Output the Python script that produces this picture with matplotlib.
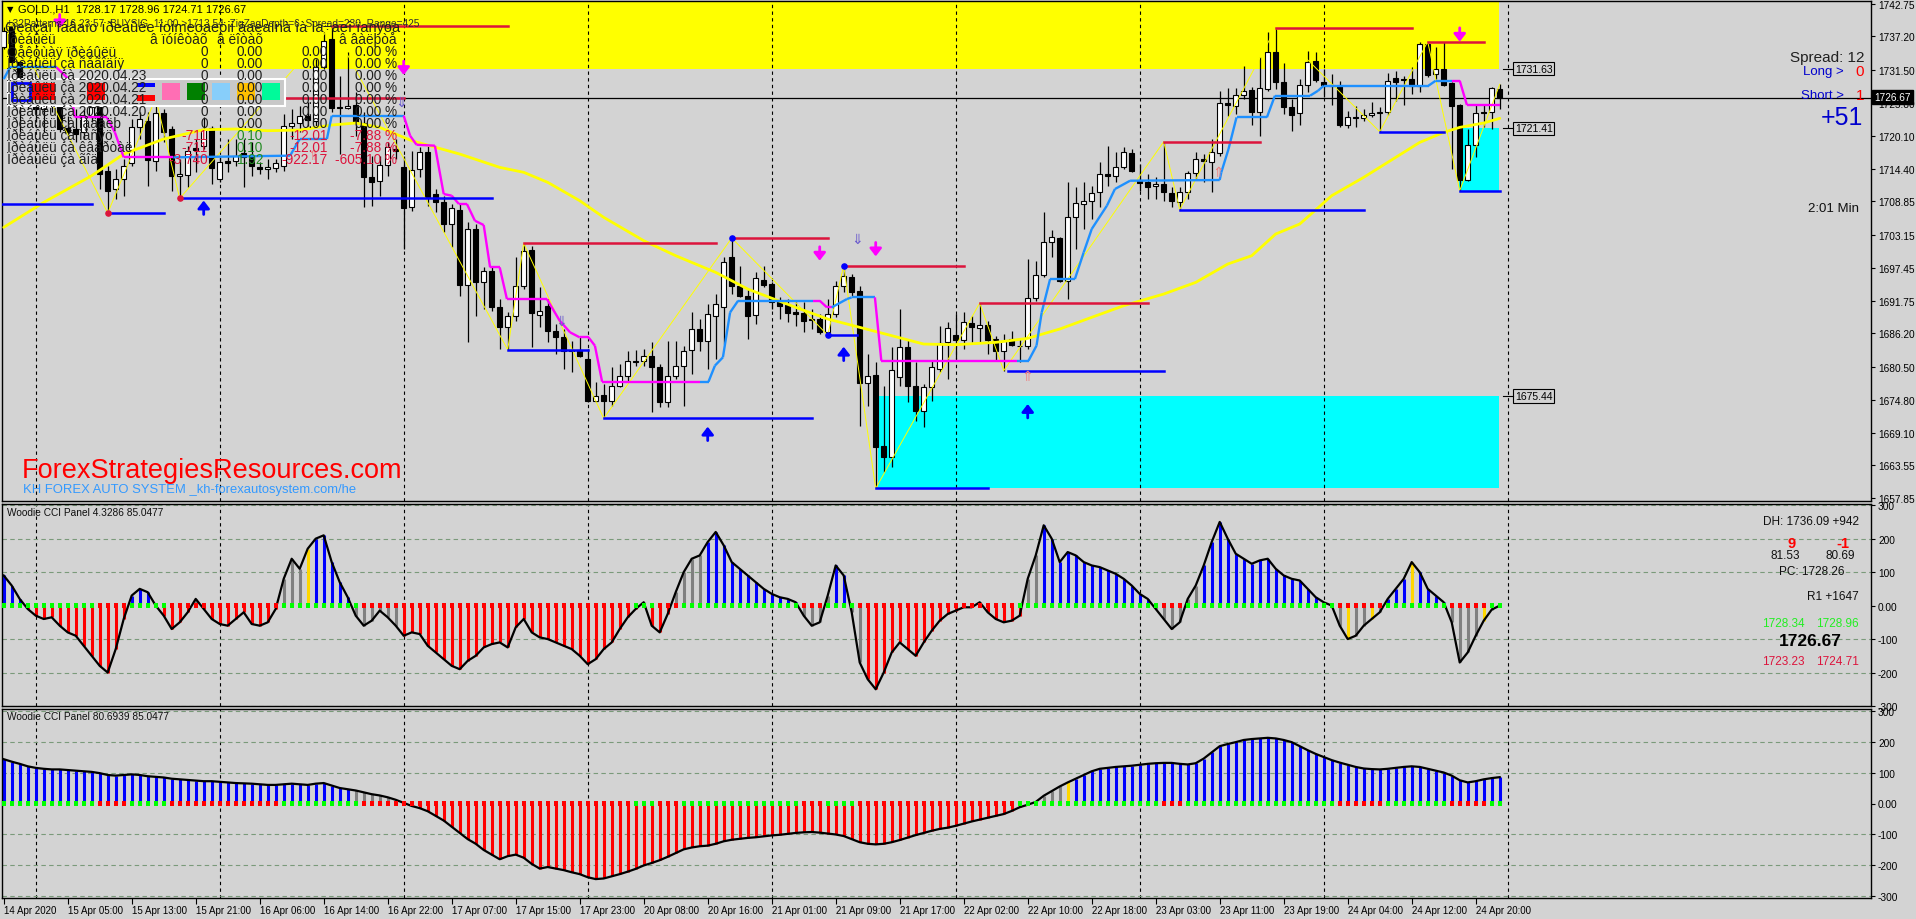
import matplotlib
matplotlib.use("Agg")
import matplotlib.pyplot as plt
from matplotlib.patches import Rectangle
import numpy as np

plt.rcParams["font.family"] = ["Liberation Sans", "DejaVu Sans"]

W, H = 1916, 920
BG = "#D3D3D3"

# GOLD H1, bar 0 = 14 Apr 20:00
opens = [1735.31, 1738.74, 1732.73, 1727.58, 1728.44, 1724.72, 1725.58, 1727.30, 1721.40, 1721.29,
         1720.71, 1723.29, 1725.01, 1714.02, 1710.98, 1712.70, 1715.39, 1721.69, 1722.72, 1715.85,
         1723.98, 1721.29, 1713.27, 1713.39, 1717.97, 1718.42, 1721.46, 1712.70, 1715.73, 1715.73,
         1717.16, 1716.42, 1714.82, 1714.36, 1714.59, 1714.99, 1721.86, 1722.32, 1723.52, 1722.72,
         1731.99, 1736.74, 1725.01, 1724.84, 1725.41, 1722.32, 1712.99, 1712.41, 1715.16, 1717.85,
         1714.70, 1707.84, 1714.42, 1717.39, 1710.12, 1708.69, 1704.97, 1707.38, 1694.55, 1704.11,
         1695.07, 1696.84, 1690.66, 1687.23, 1689.12, 1694.27, 1700.51, 1689.40, 1690.83, 1686.66,
         1685.51, 1683.34, 1683.34, 1681.79, 1674.64, 1675.67, 1674.64, 1677.21, 1678.81, 1681.50,
         1681.39, 1682.25, 1680.36, 1674.35, 1678.93, 1680.53, 1683.39, 1686.94, 1684.82, 1689.12,
         1690.66, 1699.36, 1694.27, 1692.67, 1689.35, 1695.41, 1694.67, 1691.52, 1691.06, 1689.80,
         1689.63, 1688.66, 1688.66, 1686.37, 1689.52, 1694.27, 1695.81, 1693.41, 1677.67, 1679.04,
         1666.79, 1665.02, 1678.76, 1683.79, 1677.21, 1672.80, 1677.04, 1680.07, 1684.65, 1685.91,
         1685.11, 1687.97, 1687.06, 1687.63, 1685.22, 1683.22, 1685.22, 1684.08, 1683.96, 1692.21,
         1696.22, 1701.94, 1702.57, 1695.24, 1706.12, 1708.41, 1708.92, 1710.41, 1713.56, 1713.16,
         1714.82, 1717.16, 1712.53, 1712.19, 1711.44, 1711.78, 1710.30, 1708.81, 1710.41, 1713.73,
         1716.08, 1715.56, 1717.10, 1725.69, 1725.18, 1727.18, 1727.98, 1724.15, 1728.16, 1734.45,
         1729.41, 1725.12, 1723.98, 1728.90, 1732.96, 1729.41, 1728.90, 1728.61, 1721.97, 1723.40,
         1723.12, 1723.69, 1723.98, 1724.15, 1729.99, 1729.87, 1729.87, 1728.73, 1735.88, 1730.73,
         1731.53, 1729.13, 1725.41, 1712.59, 1718.54, 1724.15, 1724.15, 1728.17]
highs = [1738.74, 1739.32, 1733.02, 1728.16, 1729.30, 1726.44, 1728.16, 1727.58, 1723.58, 1724.72,
         1724.72, 1726.44, 1726.44, 1714.99, 1714.42, 1716.14, 1723.00, 1724.15, 1724.15, 1726.60,
         1724.72, 1721.86, 1716.14, 1718.42, 1719.57, 1723.29, 1721.86, 1716.42, 1719.57, 1719.57,
         1719.57, 1718.99, 1715.56, 1716.14, 1716.14, 1723.86, 1724.72, 1725.29, 1725.86, 1733.31,
         1737.89, 1739.03, 1730.44, 1734.45, 1727.58, 1724.15, 1716.71, 1716.71, 1718.99, 1719.57,
         1716.71, 1717.57, 1718.14, 1718.42, 1710.98, 1709.84, 1708.41, 1708.41, 1705.26, 1704.97,
         1697.53, 1697.53, 1692.09, 1689.80, 1699.25, 1701.65, 1701.25, 1694.10, 1692.09, 1687.80,
         1686.94, 1684.94, 1685.51, 1683.51, 1677.78, 1677.50, 1680.36, 1680.93, 1683.22, 1683.39,
         1683.51, 1684.65, 1680.93, 1684.94, 1684.94, 1684.08, 1689.80, 1688.66, 1691.24, 1692.95,
         1699.25, 1702.57, 1697.82, 1693.81, 1696.67, 1697.82, 1694.95, 1692.38, 1692.09, 1691.52,
         1691.52, 1690.38, 1689.52, 1692.09, 1695.24, 1697.82, 1696.39, 1694.38, 1682.65, 1681.22,
         1677.21, 1683.79, 1690.38, 1685.22, 1681.22, 1677.50, 1681.50, 1687.52, 1688.09, 1689.52,
         1689.80, 1689.23, 1691.40, 1688.37, 1685.80, 1686.08, 1686.66, 1685.22, 1698.96, 1698.68,
         1706.98, 1703.94, 1702.68, 1712.13, 1711.27, 1712.13, 1711.56, 1715.56, 1718.42, 1717.28,
         1718.14, 1717.85, 1715.28, 1713.56, 1712.99, 1719.11, 1711.27, 1711.27, 1714.13, 1717.28,
         1716.99, 1719.57, 1727.87, 1728.27, 1728.27, 1732.16, 1728.44, 1733.59, 1737.89, 1738.63,
         1732.62, 1726.44, 1729.87, 1734.74, 1734.45, 1731.59, 1730.73, 1729.59, 1724.43, 1725.29,
         1724.72, 1725.86, 1725.01, 1730.90, 1731.30, 1730.44, 1731.88, 1736.28, 1736.28, 1735.31,
         1736.17, 1729.30, 1725.58, 1721.29, 1725.41, 1725.41, 1728.44, 1728.96]
lows = [1735.02, 1732.45, 1720.71, 1724.72, 1722.43, 1720.71, 1724.15, 1720.71, 1719.57, 1718.99,
        1719.57, 1722.43, 1710.98, 1706.86, 1709.27, 1709.84, 1714.99, 1719.57, 1711.56, 1714.13,
        1718.99, 1710.70, 1709.38, 1711.27, 1713.85, 1717.85, 1711.84, 1712.13, 1713.85, 1714.99,
        1711.27, 1713.27, 1713.56, 1712.70, 1713.85, 1714.13, 1719.57, 1720.71, 1721.86, 1721.86,
        1731.59, 1724.15, 1716.99, 1724.72, 1720.14, 1707.84, 1708.12, 1709.84, 1713.27, 1716.14,
        1700.68, 1707.26, 1712.99, 1708.12, 1706.98, 1703.54, 1700.97, 1692.67, 1684.65, 1689.23,
        1690.38, 1690.09, 1683.51, 1683.39, 1688.37, 1693.81, 1683.79, 1687.23, 1684.65, 1682.65,
        1680.07, 1679.50, 1682.08, 1674.35, 1674.35, 1671.60, 1673.78, 1676.93, 1678.07, 1680.65,
        1680.65, 1672.63, 1673.49, 1673.49, 1678.36, 1673.78, 1679.21, 1683.22, 1680.07, 1681.79,
        1684.36, 1692.95, 1692.38, 1685.22, 1687.80, 1694.10, 1690.38, 1688.66, 1688.09, 1687.52,
        1686.37, 1686.94, 1686.08, 1685.91, 1688.95, 1693.24, 1692.67, 1670.34, 1673.78, 1659.58,
        1662.33, 1663.19, 1677.21, 1674.35, 1671.20, 1670.17, 1674.64, 1679.50, 1678.36, 1681.79,
        1683.51, 1684.65, 1684.65, 1682.65, 1681.50, 1679.80, 1684.08, 1681.22, 1683.51, 1691.81,
        1695.81, 1699.25, 1694.95, 1692.09, 1700.68, 1704.11, 1705.83, 1707.84, 1711.56, 1712.13,
        1714.42, 1713.85, 1710.70, 1709.27, 1709.27, 1708.98, 1707.84, 1707.44, 1709.27, 1712.70,
        1712.13, 1710.53, 1716.71, 1723.58, 1723.86, 1726.44, 1721.97, 1720.14, 1727.87, 1728.16,
        1723.86, 1721.00, 1721.97, 1727.58, 1729.30, 1726.72, 1725.41, 1721.57, 1721.40, 1721.57,
        1722.72, 1723.29, 1720.83, 1723.69, 1726.15, 1725.41, 1727.30, 1727.70, 1730.16, 1729.87,
        1728.61, 1714.42, 1710.70, 1712.41, 1716.42, 1721.57, 1721.29, 1724.71]
closes = [1738.17, 1732.73, 1727.58, 1726.44, 1724.72, 1725.58, 1727.30, 1721.29, 1720.83, 1720.43,
          1723.58, 1725.01, 1713.56, 1710.70, 1712.70, 1714.99, 1721.69, 1723.00, 1716.02, 1723.98,
          1720.71, 1713.27, 1713.56, 1717.57, 1717.74, 1721.29, 1714.59, 1715.56, 1715.51, 1716.71,
          1716.42, 1714.99, 1714.36, 1714.70, 1715.45, 1721.86, 1722.26, 1723.46, 1722.89, 1731.99,
          1736.46, 1724.84, 1724.84, 1725.18, 1722.32, 1712.99, 1712.24, 1715.16, 1718.14, 1717.51,
          1707.66, 1714.30, 1717.39, 1709.44, 1708.69, 1704.97, 1707.66, 1694.55, 1704.11, 1695.07,
          1696.84, 1690.66, 1687.23, 1689.12, 1694.27, 1700.28, 1689.63, 1689.98, 1686.66, 1685.51,
          1683.11, 1683.11, 1682.36, 1674.64, 1675.50, 1674.52, 1677.21, 1678.81, 1681.50, 1681.33,
          1682.25, 1680.47, 1674.35, 1678.93, 1680.53, 1683.22, 1686.94, 1684.82, 1689.52, 1691.24,
          1698.39, 1694.27, 1692.67, 1689.23, 1695.64, 1694.55, 1691.52, 1690.95, 1689.63, 1689.52,
          1688.37, 1688.55, 1686.37, 1689.52, 1694.27, 1695.99, 1693.35, 1677.67, 1678.93, 1666.62,
          1665.02, 1679.90, 1683.79, 1677.21, 1672.80, 1677.04, 1680.36, 1684.48, 1687.06, 1685.11,
          1688.09, 1687.23, 1687.69, 1685.11, 1683.22, 1684.82, 1684.25, 1683.96, 1692.21, 1696.22,
          1701.94, 1702.68, 1695.24, 1706.12, 1708.52, 1708.92, 1710.24, 1713.56, 1713.16, 1714.70,
          1717.39, 1714.02, 1711.96, 1711.27, 1711.78, 1710.41, 1708.98, 1710.41, 1713.73, 1716.08,
          1715.73, 1717.28, 1725.69, 1725.46, 1727.18, 1727.87, 1724.15, 1728.27, 1734.45, 1729.41,
          1725.12, 1723.75, 1728.90, 1732.73, 1729.76, 1728.84, 1728.61, 1721.97, 1723.29, 1723.18,
          1723.69, 1723.98, 1724.26, 1729.59, 1729.41, 1729.76, 1728.73, 1735.88, 1730.56, 1731.53,
          1728.84, 1725.29, 1712.59, 1718.54, 1723.98, 1723.98, 1728.27, 1726.67]

# yellow moving average, read at selected bars
ma_bars = [0, 5, 11, 15, 20, 25, 29, 33, 37, 41, 44, 47, 51, 57, 62, 65, 68, 72, 75, 80, 84, 89, 93,
           99, 103, 107, 111, 115, 119, 124, 128, 132, 136, 140, 145, 149, 153, 156, 159, 162, 166,
           170, 174, 177, 180, 182, 185, 187]
ma_vals = [1704.40, 1708.69, 1713.27, 1716.99, 1719.57, 1721.17, 1721.29, 1721.00, 1721.11, 1721.97,
           1722.32, 1721.57, 1719.28, 1716.99, 1714.70, 1713.85, 1712.13, 1708.98, 1706.12, 1702.11,
           1699.53, 1696.67, 1693.81, 1690.66, 1688.66, 1687.23, 1685.80, 1684.36, 1684.25, 1684.65,
           1685.34, 1686.94, 1688.95, 1690.95, 1692.95, 1694.95, 1698.10, 1699.53, 1703.26, 1704.97,
           1709.84, 1712.99, 1716.42, 1718.99, 1720.71, 1721.57, 1722.32, 1723.12]

# trailing stop line (vertices); colour of the segment that starts at each vertex
trail_x = [0, 0.8, 6.6, 8.1, 8.9, 12.9, 13.9, 15.0, 21.2, 35.8, 37.0, 40.4, 41.0, 50.0, 50.8, 51.6,
           53.9, 55.0, 56.0, 56.9, 57.9, 58.9, 60.0, 60.8, 62.0, 62.9, 67.9, 69.5, 70.8, 72.0, 73.1,
           73.9, 74.8, 87.0, 88.1, 88.9, 89.9, 90.8, 91.8, 101.2, 102.0, 102.9, 103.5, 105.4, 106.0,
           108.9, 109.7, 126.6, 128.1, 129.1, 129.75, 130.8, 133.9, 135.0, 136.0, 137.9, 138.9, 140.8,
           152.0, 152.2, 153.1, 154.1, 157.9, 158.9, 163.3, 164.3, 165.0, 178.1, 179.0, 181.0, 182.0,
           182.9, 187.0]
trail_y = [1729.87, 1731.88, 1731.88, 1729.87, 1723.29, 1723.29, 1720.71, 1716.42, 1716.42, 1716.71,
           1719.57, 1719.57, 1723.58, 1723.58, 1720.14, 1718.59, 1718.42, 1710.12, 1709.84, 1708.41,
           1708.41, 1705.54, 1704.80, 1697.53, 1697.53, 1692.09, 1692.09, 1688.37, 1686.37, 1685.51,
           1685.51, 1684.08, 1677.90, 1677.90, 1677.90, 1680.65, 1682.08, 1689.80, 1691.81, 1691.81,
           1691.81, 1690.66, 1690.66, 1692.09, 1692.38, 1692.38, 1681.50, 1681.50, 1681.50, 1684.08,
           1689.80, 1695.53, 1695.53, 1700.11, 1704.11, 1708.12, 1710.98, 1712.41, 1712.53, 1713.85,
           1717.85, 1723.29, 1723.29, 1727.01, 1727.01, 1727.87, 1728.73, 1728.73, 1729.59, 1729.59,
           1729.59, 1725.41, 1725.41]
trail_dir = "bbmmmmmmbbbbbmmmmmmmmmmmmmmmmmmmmbbbbbbmmmbbbmmbbbbbbbbbbbbbbbbbbbbbbmmm"

# zigzag swing points
zz_bars = [1, 13, 19, 22, 41, 63, 65, 75, 91, 103, 105, 109, 122, 125, 145, 147, 159, 172, 178, 182, 187]
zz_vals = [1739.32, 1706.86, 1726.60, 1709.38, 1739.03, 1683.39, 1701.65, 1671.60, 1702.57, 1685.91,
           1697.82, 1659.58, 1691.40, 1679.80, 1719.11, 1707.44, 1738.63, 1720.83, 1736.28, 1710.70,
           1728.96]

# resistance / support segments: level, first bar, last bar
res_lines = [(1726.60, 19, 50), (1739.03, 41, 63), (1701.65, 65, 89), (1702.57, 91, 103),
             (1697.82, 105, 120), (1691.40, 122, 143), (1719.11, 145, 157), (1738.63, 159, 176),
             (1736.28, 178, 185)]
sup_lines = [(1708.41, -0.3, 11), (1706.86, 13, 20), (1709.38, 22, 61), (1683.39, 63, 73),
             (1671.60, 75, 101), (1685.91, 103, 106.6), (1659.58, 109, 123), (1679.80, 125.5, 145),
             (1707.44, 147, 170), (1720.83, 172, 180), (1710.70, 182, 187)]

# signal arrows (bar, price of the tip)
buy_arrows = [(25, 1709.0), (88, 1670.17), (105, 1683.90), (128, 1674.06)]
sell_arrows = [(7, 1738.57), (50, 1730.56), (102, 1698.68), (109, 1699.42), (182, 1736.28)]
hollow_down = [(49.6, 1726.0), (69.7, 1688.4), (106.7, 1702.4)]
hollow_up = [(38.7, 1716.8), (127.9, 1678.8), (151.8, 1713.85)]
red_dots = [(13, 1706.86), (19, 1726.60), (22, 1709.38)]
blue_dots = [(91, 1702.57), (103, 1685.91), (105, 1697.82)]

# zones: first bar, last bar, low, high
zone_yellow = (-0.5, 186.9, 1731.63, 1746.0)
zone_cyan = [(109.3, 186.9, 1659.65, 1675.44), (181.9, 186.9, 1710.70, 1721.41)]
level_tags = [1731.63, 1721.41, 1675.44]
last_price = 1726.67

price_ticks = [1742.75, 1737.20, 1731.50, 1725.80, 1720.10, 1714.40, 1708.85, 1703.15, 1697.45,
               1691.75, 1686.20, 1680.50, 1674.80, 1669.10, 1663.55, 1657.85]
day_breaks = [4, 27, 50, 73, 96, 119, 142, 165, 188]
x_labels = ["14 Apr 2020", "15 Apr 05:00", "15 Apr 13:00", "15 Apr 21:00", "16 Apr 06:00",
            "16 Apr 14:00", "16 Apr 22:00", "17 Apr 07:00", "17 Apr 15:00", "17 Apr 23:00",
            "20 Apr 08:00", "20 Apr 16:00", "21 Apr 01:00", "21 Apr 09:00", "21 Apr 17:00",
            "22 Apr 02:00", "22 Apr 10:00", "22 Apr 18:00", "23 Apr 03:00", "23 Apr 11:00",
            "23 Apr 19:00", "24 Apr 04:00", "24 Apr 12:00", "24 Apr 20:00"]

# profit table (garbled cp1251 text as displayed)
tbl_labels = ["Ïðèáûëü", "Òåêóùàÿ ïðèáûëü", "Ïðèáûëü çà ñåãîäíÿ", "Ïðèáûëü çà 2020.04.23",
              "Ïðèáûëü çà 2020.04.22", "Ïðèáûëü çà 2020.04.21", "Ïðèáûëü çà 2020.04.20",
              "Ïðèáûëü çà íåäåëþ", "Ïðèáûëü çà ìåñÿö", "Ïðèáûëü çà êâàðòàë", "Ïðèáûëü çà ãîä"]
tbl_points = ["â ïóíêòàõ", "0", "0", "0", "0", "0", "0", "0", "-711", "-711", "-3 740"]
tbl_lots = ["â ëîòàõ", "0.00", "0.00", "0.00", "0.00", "0.00", "0.00", "0.00", "0.10", "0.10", "1.92"]
tbl_money = ["", "0.00", "0.00", "0.00", "0.00", "0.00", "0.00", "0.00", "-12.01", "-12.01", "-922.17"]
tbl_pct = ["â âàëþòå", "0.00 %", "0.00 %", "0.00 %", "0.00 %", "0.00 %", "0.00 %", "0.00 %",
           "-7.88 %", "-7.88 %", "-605.10 %"]

# Woodie CCI, fast panel (one value per bar)
cci1 = [90, 60, 20, -10, -30, -40, -35, -60, -80, -90,
        -120, -150, -180, -200, -130, -40, 30, 50, 40, 0,
        -30, -70, -50, -20, 20, -10, -40, -55, -60, -40,
        -20, -55, -60, -50, -10, 80, 140, 110, 170, 200,
        210, 130, 70, 25, -30, -60, -45, -15, -35, -60,
        -90, -80, -85, -120, -140, -160, -180, -190, -165, -150,
        -125, -115, -110, -125, -65, -40, -80, -95, -100, -110,
        -120, -130, -150, -175, -160, -130, -110, -70, -35, -10,
        10, -60, -80, -25, 40, 100, 140, 150, 190, 220,
        180, 130, 110, 90, 70, 50, 35, 25, 20, 10,
        -30, -60, -50, 30, 120, 90, -20, -170, -220, -250,
        -200, -140, -110, -130, -150, -110, -75, -45, -25, -15,
        -5, -5, 10, -20, -40, -50, -45, -30, 80, 150,
        240, 200, 130, 160, 150, 130, 120, 115, 105, 95,
        80, 60, 35, 20, -10, -40, -70, -50, 20, 60,
        120, 190, 250, 200, 155, 140, 125, 135, 140, 110,
        90, 80, 75, 50, 25, 10, 0, -60, -100, -90,
        -60, -40, -20, 20, 50, 80, 130, 100, 50, 30,
        10, -50, -170, -140, -90, -45, -12, 0]
# histogram colour per bar: b=trend up, r=trend down, g=neutral, y=turn
cci1_col = ("bbb" + "r" * 13 + "bbb" + "g" + "rrrr" + "g" + "r" * 10 + "ggg" + "y" + "b" * 5
            + "g" * 6 + "r" * 30 + "g" + "rrr" + "gggg" + "b" * 12 + "gggg" + "bb" + "gg" + "r" * 14
            + "g" + "r" * 5 + "gg" + "b" * 14 + "g" * 6 + "b" * 17 + "gyggyg" + "bbb" + "y" + "bbbb"
            + "gggg" + "y" + "gg")

# Woodie CCI, slow panel
cci2 = [143, 135, 128, 120, 115, 112, 110, 110, 108, 106,
        104, 102, 98, 92, 90, 92, 94, 92, 88, 86,
        84, 80, 78, 76, 74, 72, 72, 70, 68, 66,
        65, 64, 62, 60, 60, 62, 64, 62, 60, 64,
        66, 58, 50, 46, 42, 36, 30, 26, 20, 12,
        2, -8, -15, -25, -40, -55, -75, -95, -115, -130,
        -150, -165, -180, -170, -165, -175, -195, -210, -205, -210,
        -215, -222, -228, -238, -244, -242, -235, -228, -220, -211,
        -200, -192, -183, -172, -160, -148, -142, -138, -136, -130,
        -122, -117, -114, -111, -109, -106, -103, -101, -98, -95,
        -93, -92, -94, -97, -100, -105, -115, -125, -130, -132,
        -130, -125, -118, -110, -102, -95, -88, -82, -78, -72,
        -65, -58, -52, -46, -40, -34, -24, -12, -4, 5,
        25, 40, 55, 68, 80, 92, 104, 112, 115, 118,
        120, 122, 125, 128, 130, 131, 131, 128, 126, 130,
        145, 165, 185, 192, 198, 205, 208, 210, 212, 210,
        205, 198, 185, 172, 160, 150, 140, 132, 125, 118,
        113, 111, 110, 112, 115, 118, 120, 118, 112, 106,
        100, 90, 75, 68, 72, 78, 82, 85]
cci2_col = "b" * 44 + "g" * 6 + "y" + "r" * 77 + "g" * 5 + "y" + "b" * 54

# zero-line trend squares (same on both panels): g=green, r=red
zero_dot = ("g" * 12 + "r" * 4 + "g" * 5 + "r" * 14 + "g" * 10 + "r" * 34 + "g" * 3 + "r" * 3
            + "g" * 15 + "r" * 3 + "g" * 4 + "r" * 20 + "g" * 18 + "r" * 3 + "g" * 19 + "r" * 6
            + "g" * 8 + "r" * 5 + "g" * 2)

XL = (-0.2125, 233.41)

fig = plt.figure(figsize=(W / 100, H / 100), dpi=100, facecolor=BG)


def px_axes(left, top, right, bottom):
    return fig.add_axes([left / W, 1 - bottom / H, (right - left) / W, (bottom - top) / H])


def ftext(x, y, s, **kw):
    kw.setdefault("va", "center")
    kw.setdefault("zorder", 20)
    return fig.text(x / W, 1 - y / H, s, **kw)


def frect(x0, y0, x1, y1, **kw):
    r = Rectangle((x0 / W, 1 - y1 / H), (x1 - x0) / W, (y1 - y0) / H,
                  transform=fig.transFigure, zorder=19, **kw)
    fig.add_artist(r)


ax = px_axes(2, 2, 1871, 502)
c1 = px_axes(2, 505, 1871, 707)
c2 = px_axes(2, 710, 1871, 899)

for a in (ax, c1, c2):
    a.set_facecolor(BG)
    a.set_xlim(XL)
    for s in a.spines.values():
        s.set_color("black")
        s.set_linewidth(1)
    for b in day_breaks:
        a.axvline(b, color="black", ls=(0, (3, 3)), lw=0.8, zorder=1)
    a.yaxis.tick_right()
    a.tick_params(axis="y", length=3, width=0.8, pad=2, labelsize=7.3, colors="black")
    a.tick_params(axis="x", length=0)
    a.set_xticks([])

# ---- main price chart ----
ax.set_ylim(1657.41, 1743.27)
ax.set_yticks(price_ticks)
ax.set_yticklabels([f"{v:.2f}" for v in price_ticks])

x0, x1, y0, y1 = zone_yellow
ax.add_patch(Rectangle((x0, y0), x1 - x0, y1 - y0, color="#FFFF00", lw=0, zorder=0.5))
for x0, x1, y0, y1 in zone_cyan:
    ax.add_patch(Rectangle((x0, y0), x1 - x0, y1 - y0, color="#00FFFF", lw=0, zorder=0.5))

ax.axhline(last_price, color="black", lw=0.9, zorder=1.5)

o, h, l, c = map(np.array, (opens, highs, lows, closes))
idx = np.arange(len(o))
ax.vlines(idx, l, h, color="black", lw=0.9, zorder=3)
blo = np.minimum(o, c)
bh = np.maximum(np.abs(c - o), 0.15)
ax.bar(idx, bh, bottom=blo, width=0.62, color=["white" if cc >= oo else "black" for oo, cc in zip(o, c)],
       edgecolor="black", lw=0.8, zorder=3.5)

ax.plot(ma_bars, ma_vals, color="#FFFF00", lw=2.0, zorder=4, solid_capstyle="round")
ax.plot(zz_bars, zz_vals, color="#FFFF00", lw=0.7, zorder=4.2)

for k in range(len(trail_x) - 1):
    col = "#1E90FF" if trail_dir[k] == "b" else "#FF00FF"
    ax.plot(trail_x[k:k + 2], trail_y[k:k + 2], color=col, lw=1.7, zorder=5, solid_capstyle="butt")

for lv, b0, b1 in res_lines:
    ax.plot([b0, b1], [lv, lv], color="#DC143C", lw=1.8, zorder=5.5)
for lv, b0, b1 in sup_lines:
    ax.plot([b0, b1], [lv, lv], color="#0000FF", lw=1.8, zorder=5.5)

ax.scatter([p[0] for p in red_dots], [p[1] for p in red_dots], s=14, color="#DC143C", zorder=6)
ax.scatter([p[0] for p in blue_dots], [p[1] for p in blue_dots], s=14, color="#0000FF", zorder=6)

for b, p in buy_arrows:
    ax.annotate("", xy=(b, p), xytext=(0, -10), textcoords="offset points",
                arrowprops=dict(arrowstyle="-|>,head_width=0.35,head_length=0.45", color="#0000FF",
                                lw=2.0, shrinkA=0, shrinkB=0), zorder=7)
for b, p in sell_arrows:
    ax.annotate("", xy=(b, p), xytext=(0, 10), textcoords="offset points",
                arrowprops=dict(arrowstyle="-|>,head_width=0.35,head_length=0.45", color="#FF00FF",
                                lw=2.0, shrinkA=0, shrinkB=0), zorder=7)
for b, p in hollow_down:
    ax.text(b, p, "⇓", color="#6A5ACD", fontsize=10, ha="center", va="center",
            family="DejaVu Sans", zorder=7)
for b, p in hollow_up:
    ax.text(b, p, "⇑", color="#F08080", fontsize=10, ha="center", va="center",
            family="DejaVu Sans", zorder=7)

# level tags to the right of the last bar
for lv in level_tags:
    ax.plot([187.4, 188.6], [lv, lv], color="black", lw=0.8, zorder=6, clip_on=False)
    ax.text(188.9, lv, f"{lv:.2f}", fontsize=7.5, va="center", ha="left", zorder=8,
            bbox=dict(facecolor="none", edgecolor="black", pad=1.2, lw=0.8))

# ---- top-left overlay texts ----
ftext(7, 10, "▼", fontsize=6, family="DejaVu Sans")
ftext(18, 10, "GOLD.,H1  1728.17 1728.96 1724.71 1726.67", fontsize=8)
ftext(7, 24, "±32Patterns 16 23:57  BUYSIG  11:00 >1713.54  ZigZagDepth=6  Spread=230  Range=425",
      fontsize=7.3, color="#303030")
ftext(5, 28, "Oeaçaí ïáâaío ïðeaûëe ïoimeoaeöii äaeaínà ìà ìa÷aeî ïanÿöa", fontsize=10.5,
      color="#202020")

frect(8, 80, 285, 107, facecolor="#C8C8C8", edgecolor="white", lw=1.5)
frect(12, 84, 30, 101, facecolor="none", edgecolor="#0000FF", lw=2)
frect(32, 84, 55, 101, facecolor="#FF0000", edgecolor="none")
frect(87, 84, 105, 101, facecolor="#FF0000", edgecolor="none")
frect(137, 84, 155, 88, facecolor="#0000FF", edgecolor="none")
frect(137, 96, 155, 102, facecolor="#FF0000", edgecolor="none")
for xx, colr in zip([162, 187, 212, 237, 262], ["#FF6EB4", "#008000", "#87CEFA", "#FFC000", "#00FA9A"]):
    frect(xx, 84, xx + 18, 101, facecolor=colr, edgecolor="none")

for r in range(len(tbl_labels)):
    yy = 40 + 12 * r
    neg = tbl_points[r].startswith("-")
    vcol = "#DC143C" if neg else "#202020"
    ftext(7, yy, tbl_labels[r], fontsize=9.8, color="#202020")
    ftext(208, yy, tbl_points[r], fontsize=9.8, color=vcol, ha="right")
    ftext(263, yy, tbl_lots[r], fontsize=9.8, color="#228B22" if neg else "#202020", ha="right")
    ftext(328, yy, tbl_money[r], fontsize=9.8, color=vcol, ha="right")
    ftext(397, yy, tbl_pct[r], fontsize=9.8, color=vcol, ha="right")

ftext(22, 471, "ForexStrategiesResources.com", fontsize=19.5, color="#FF0000")
ftext(23, 490, "KH FOREX AUTO SYSTEM _kh-forexautosystem.com/he", fontsize=9.4, color="#3399FF")

# ---- right side info ----
ftext(1864, 58, "Spread: 12", fontsize=11, ha="right", color="#202020")
ftext(1844, 72, "Long >", fontsize=9.5, ha="right", color="#0000CD")
ftext(1864, 72, "0", fontsize=11, ha="right", color="#FF0000")
ftext(1844, 96, "Short >", fontsize=9.5, ha="right", color="#0000CD")
ftext(1864, 96, "1", fontsize=11, ha="right", color="#FF0000")
ftext(1863, 118, "+51", fontsize=18, ha="right", color="#0000CD")
ftext(1859, 209, "2:01 Min", fontsize=9.5, ha="right", color="#101010")
ftext(1874, 98, f"{last_price:.2f}", fontsize=7.3, color="white",
      bbox=dict(facecolor="black", edgecolor="black", pad=1.5))


# ---- CCI panels ----
CCI_COL = {"b": "#0000FF", "r": "#FF0000", "g": "#808080", "y": "#FFD700"}
DOT_COL = {"g": "#00FF00", "r": "#FF0000"}


def cci_panel(a, vals, cols, dots, ylim, title, title_y):
    a.set_ylim(*ylim)
    for v in (300, 200, 100, -100, -200, -300):
        a.axhline(v, color="#7A9A7A", ls=(0, (4, 3)), lw=0.8, zorder=1)
    ticks = [300, 200, 100, 0, -100, -200, -300]
    a.set_yticks(ticks)
    a.set_yticklabels(["300", "200", "100", "0.00", "-100", "-200", "-300"])
    ii = np.arange(len(vals))
    a.vlines(ii, 0, vals, colors=[CCI_COL[k] for k in cols], lw=2.2, zorder=2)
    a.plot(ii, vals, color="black", lw=1.6, zorder=3)
    a.scatter(ii, np.zeros(len(vals)), marker="s", s=10, lw=0,
              c=[DOT_COL[k] for k in dots], zorder=4)
    ftext(7, title_y, title, fontsize=7.3, color="#101010")


cci_panel(c1, cci1, cci1_col, zero_dot, (-299.4, 303.6), "Woodie CCI Panel 4.3286 85.0477", 513)
cci_panel(c2, cci2, cci2_col, zero_dot, (-305, 305), "Woodie CCI Panel 80.6939 85.0477", 717)

ftext(1859, 522, "DH: 1736.09 +942", fontsize=8.5, ha="right", color="#101010")
ftext(1792, 544, "9", fontsize=10.5, ha="center", color="#FF0000", weight="bold")
ftext(1843, 544, "-1", fontsize=10.5, ha="center", color="#FF0000", weight="bold")
ftext(1785, 556, "81.53", fontsize=8.5, ha="center", color="#101010")
ftext(1840, 556, "80.69", fontsize=8.5, ha="center", color="#101010")
ftext(1812, 572, "PC: 1728.26", fontsize=8.5, ha="center", color="#101010")
ftext(1859, 597, "R1 +1647", fontsize=8.5, ha="right", color="#101010")
ftext(1783, 624, "1728.34", fontsize=8.5, ha="center", color="#22EE22")
ftext(1837, 624, "1728.96", fontsize=8.5, ha="center", color="#22EE22")
ftext(1810, 642, "1726.67", fontsize=12.5, ha="center", color="black", weight="bold")
ftext(1783, 662, "1723.23", fontsize=8.5, ha="center", color="#DC143C")
ftext(1837, 662, "1724.71", fontsize=8.5, ha="center", color="#DC143C")

# ---- time axis ----
c2.set_xticks(np.arange(0, 8 * len(x_labels), 8))
c2.set_xticklabels(x_labels, ha="left")
c2.tick_params(axis="x", length=4, width=0.8, pad=1, labelsize=7.0)

fig.savefig("out.png", dpi=100, facecolor=BG)
